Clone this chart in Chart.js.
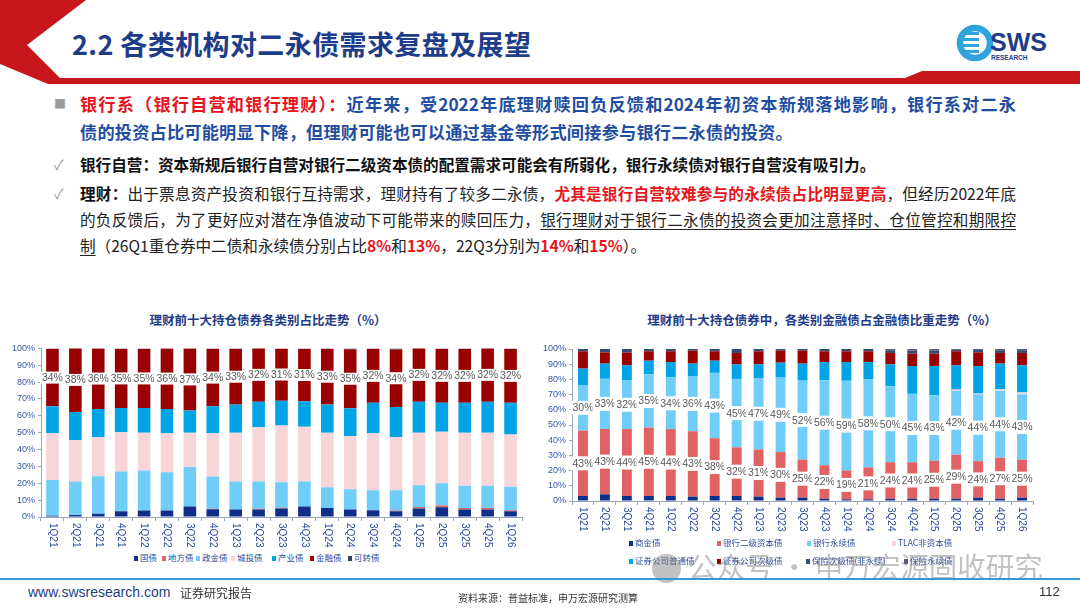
<!DOCTYPE html>
<html>
<head>
<meta charset="utf-8">
<script src="https://cdn.jsdelivr.net/npm/chart.js@4.4.1/dist/chart.umd.min.js"></script>
<style>
  html, body { margin: 0; padding: 0; background: #fff; }
  body { width: 1080px; height: 608px; position: relative; overflow: hidden; font-family: "Noto Sans CJK SC", "Noto Sans", sans-serif; }
  .abs { position: absolute; }
  .title { left: 72px; top: 26px; font-size: 27px; font-weight: bold; color: #1F3C88; line-height: 36px; letter-spacing: 0.4px; }
  .line { position: absolute; left: 80px; line-height: 20px; white-space: nowrap; }
  .l1 { top: 94px; width: 936px; font-size: 17.2px; font-weight: bold; color: #1F4EA0; text-align: justify; text-align-last: justify; }
  .l2 { top: 122px; font-size: 17.2px; font-weight: bold; color: #1F4EA0; letter-spacing: 0.2px; }
  .l3 { top: 154px; font-size: 15.6px; font-weight: bold; color: #111; }
  .l4, .l5 { width: 936px; font-size: 15.6px; color: #222; text-align: justify; text-align-last: justify; }
  .l4 { top: 183px; }
  .l5 { top: 209px; }
  .l6 { top: 235px; font-size: 15.6px; color: #222; }
  .red { color: #E8141B; font-weight: bold; }
  .b { font-weight: bold; color: #111; }
  .u { text-decoration: underline; text-underline-offset: 3px; }
  .bullet { position: absolute; left: 54px; color: #9a9a9a; }
  .ctitle { position: absolute; top: 310px; font-size: 12.5px; font-weight: bold; color: #1F3C88; text-align: center; }
  .legend { position: absolute; font-size: 8.5px; color: #2E4D9A; white-space: nowrap; line-height: 12px; }
  .legend span.it { position: absolute; }
  .legend i { display: inline-block; width: 4px; height: 5px; margin-right: 2px; vertical-align: 0px; }
  .wm { left: 652px; top: 546px; font-size: 28.5px; color: rgba(120,120,120,0.45); white-space: nowrap; line-height: 40px; }
  .foot { position: absolute; white-space: nowrap; }
</style>
</head>
<body>

<svg class="abs" style="left:0;top:0" width="1080" height="90">
  <polygon points="0,0 86,0 27,45 60,78 1080,78 1080,84 48,84 0,64" fill="#C8161D"/>
  <polygon points="905,78 922,71 1080,71 1080,78" fill="#C8161D"/>
  <circle cx="975" cy="43" r="15" fill="none" stroke="#2EA3DD" stroke-width="6.5"/>
  <rect x="962" y="32" width="17" height="3" fill="#2EA3DD"/>
  <rect x="962" y="38" width="17" height="3" fill="#2EA3DD"/>
  <rect x="962" y="44" width="17" height="3" fill="#2EA3DD"/>
  <rect x="962" y="50" width="17" height="3" fill="#2EA3DD"/>
  <text x="990" y="51" font-family="Liberation Sans, Arial" font-weight="bold" font-size="25" fill="#1F3C88">SWS</text>
  <text x="991" y="60" font-family="Liberation Sans, Arial" font-weight="bold" font-size="6.5" fill="#1F3C88">RESEARCH</text>
</svg>
<div class="abs title">2.2 各类机构对二永债需求复盘及展望</div>

<div class="bullet" style="top:94px;font-size:12px;line-height:20px;">■</div>
<div class="line l1"><span class="red">银行系（银行自营和银行理财）：</span>近年来，受2022年底理财赎回负反馈和2024年初资本新规落地影响，银行系对二永</div>
<div class="line l2">债的投资占比可能明显下降，但理财可能也可以通过基金等形式间接参与银行二永债的投资。</div>
<div class="bullet" style="top:154px;font-size:14px;line-height:20px;">✓</div>
<div class="line l3">银行自营：资本新规后银行自营对银行二级资本债的配置需求可能会有所弱化，银行永续债对银行自营没有吸引力。</div>
<div class="bullet" style="top:183px;font-size:14px;line-height:20px;">✓</div>
<div class="line l4"><span class="b">理财：</span>出于票息资产投资和银行互持需求，理财持有了较多二永债，<span class="red">尤其是银行自营较难参与的永续债占比明显更高</span>，但经历2022年底</div>
<div class="line l5">的负反馈后，为了更好应对潜在净值波动下可能带来的赎回压力，<span class="u">银行理财对于银行二永债的投资会更加注意择时、仓位管控和期限控</span></div>
<div class="line l6"><span class="u">制</span>（26Q1重仓券中二债和永续债分别占比<span class="red">8%</span>和<span class="red">13%</span>，22Q3分别为<span class="red">14%</span>和<span class="red">15%</span>）。</div>

<div class="ctitle" style="left:130px;width:276px;">理财前十大持仓债券各类别占比走势（%）</div>
<div class="ctitle" style="left:630px;width:384px;">理财前十大持仓债券中，各类别金融债占金融债比重走势（%）</div>

<div class="abs" style="left:0;top:340px;width:530px;height:210px;"><canvas id="leftChart"></canvas></div>
<div class="abs" style="left:530px;top:340px;width:550px;height:210px;"><canvas id="rightChart"></canvas></div>

<div id="leftLegend" class="legend" style="left:134px;top:551px;width:280px;height:12px;"></div>
<div id="rightLegend" class="legend" style="left:629px;top:536px;width:360px;height:30px;"></div>

<div class="abs wm"><span style="display:inline-block;width:29px;height:29px;border-radius:15px;background:rgba(120,120,120,0.45);vertical-align:-5px;margin-right:7px;"></span>公众号 · 申万宏源固收研究</div>

<div class="abs" style="left:0;top:578px;width:1080px;height:2px;background:#2E9BD6;"></div>
<div class="foot" style="left:28px;top:584px;font-size:14px;color:#1F3C88;font-family:'Liberation Sans',Arial;">www.swsresearch.com</div>
<div class="foot" style="left:180px;top:584px;font-size:12px;color:#333;">证券研究报告</div>
<div class="foot" style="left:458px;top:590px;font-size:10px;color:#333;">资料来源：普益标准，申万宏源研究测算</div>
<div class="foot" style="left:1039px;top:584px;font-size:13px;color:#333;font-family:'Liberation Sans',Arial;">112</div>

<script>
// ===== 数据 =====
const quarters = ['1Q21','2Q21','3Q21','4Q21','1Q22','2Q22','3Q22','4Q22','1Q23','2Q23','3Q23',
  '4Q23','1Q24','2Q24','3Q24','4Q24','1Q25','2Q25','3Q25','4Q25','1Q26'];
const yTicks = [0, 10, 20, 30, 40, 50, 60, 70, 80, 90, 100];

// 左图：各类别占比
const leftNames = ['国债','地方债','政金债','城投债','产业债','金融债','可转债'];
const guozhai  = [0.8,1.2,2.0,3.4,3.8,3.8,6.3,4.6,4.4,4.4,5.0,6.3,5.4,4.4,4.0,3.4,5.0,5.8,4.4,4.4,3.4];
const difang   = [0,0,0,0,0,0,0,0.3,0,0.5,0.5,0,0,0,0,0.4,1.0,1.0,1.0,1.0,0.6];
const zhengjin = [21.2,19.8,22.2,23.6,23.8,22.8,23.3,19.1,16.6,16.1,15.1,14.7,12.3,12.1,11.9,12.1,12.8,13.2,13.1,13.1,13.9];
const chengtou = [27.6,24.6,23.2,23.2,22.4,23.0,20.4,25.6,29.0,32.2,33.6,32.6,32.3,31.5,33.7,31.5,31.2,30.6,31.5,31.5,31.1];
const chanye   = [16.1,16.7,16.7,14.5,14.7,14.5,13.1,16.1,16.7,15.1,14.8,15.1,16.7,16.5,18.1,17.9,18.3,17.1,17.7,18.3,18.7];
const jinrong  = [34,38,36,35,35,36,37,34,33,32,31,31,33,35,32,34,32,32,32,32,32];
const kezhuan  = [0.3,0,0,0.3,0.3,0,0,0.3,0.3,0,0,0.3,0.3,0.5,0.3,0.7,0,0.3,0.3,0,0.3];

// 右图：各类别金融债占比
const rightNames = ['商金债','银行二级资本债','银行永续债','TLAC非资本债','证券公司普通债','证券公司次级债','保险次级债(非永续)','保险永续债'];
const shangjin = [3.3,4.4,3.3,3.3,3.3,2.9,3.3,3.3,2.9,2.2,2.2,1.5,1.1,1.1,1.5,1.5,1.5,1.5,2.2,1.5,2.2];
const erji     = [43,43,44,45,44,43,38,32,31,30,25,22,19,21,24,24,25,29,24,27,25];
const yongxu   = [30,33,32,35,34,36,43,45,47,49,52,56,59,58,50,45,43,42,44,44,43];
const tlac     = [0,0,0,0,0,0,0,0,0,0,0,0,0,0,0,0,0,0.8,0.5,1.0,1.2];
const zqpt     = [10.8,10.0,10.0,9.0,10.1,8.5,8.0,9.6,9.0,9.8,11.2,11.9,12.3,11.3,14.4,18.3,19.3,16.0,18.1,16.9,17.9];
const zqcj     = [11.4,7.4,8.3,6.2,7.1,8.5,6.2,7.5,8.6,7.9,8.5,7.1,7.1,7.1,7.5,8.1,8.1,9.2,9.0,7.0,8.1];
const bxcj     = [1.5,2.2,2.4,1.5,1.5,1.1,1.5,2.6,1.5,1.1,1.1,1.5,1.5,1.5,1.8,2.1,2.1,1.0,1.5,1.8,1.8];
const bxyx     = [0,0,0,0,0,0,0,0,0,0,0,0,0,0,0.8,1.0,1.0,0.5,0.7,0.8,0.8];

const leftColors  = ['#0F2E8A','#E06262','#6FCDF7','#F8D5D8','#00A3E3','#990000','#34415E'];
const rightColors = ['#0F2E8A','#E06262','#6FCDF7','#F8D5D8','#00A3E3','#990000','#354A6E','#5D5880'];

const AXIS = '#9AA6BE';
const TICK_TXT = '#3458A6';
Chart.defaults.font.family = "'Liberation Sans', Arial, sans-serif";
Chart.defaults.animation = false;

// ===== 插件：竖排横轴标签（顺时针 90°）=====
const verticalTicks = {
  id: 'verticalTicks',
  afterDraw(chart) {
    const { ctx, chartArea } = chart;
    const xs = chart.scales.x;
    ctx.save();
    ctx.fillStyle = '#2E4D9A';
    ctx.font = "10px 'Liberation Sans', Arial";
    ctx.textAlign = 'left';
    ctx.textBaseline = 'middle';
    chart.data.labels.forEach((lbl, i) => {
      const x = xs.getPixelForTick(i);
      ctx.save();
      ctx.translate(x, chartArea.bottom + 6);
      ctx.rotate(Math.PI / 2);
      ctx.fillText(lbl, 0, 0);
      ctx.restore();
    });
    ctx.restore();
  },
};

// ===== 插件：带白底的数据标签 =====
const boxLabels = {
  id: 'boxLabels',
  afterDatasetsDraw(chart, args, opts) {
    const { ctx } = chart;
    ctx.save();
    ctx.font = "10.5px 'Liberation Sans', Arial";
    ctx.textAlign = 'center';
    ctx.textBaseline = 'middle';
    opts.sets.forEach((di) => {
      const meta = chart.getDatasetMeta(di);
      const data = chart.data.datasets[di].data;
      meta.data.forEach((el, i) => {
        const cy = (el.y + el.base) / 2;
        const txt = `${Math.round(data[i])}%`;
        const w = ctx.measureText(txt).width;
        ctx.fillStyle = '#fff';
        ctx.fillRect(el.x - w / 2 - 2, cy - opts.boxH / 2, w + 4, opts.boxH);
        ctx.fillStyle = '#595959';
        ctx.fillText(txt, el.x, cy + 0.5);
      });
    });
    ctx.restore();
  },
};

function makeChart(id, names, series, colors, cfg) {
  const ctx = document.getElementById(id).getContext('2d');
  return new Chart(ctx, {
    type: 'bar',
    data: {
      labels: quarters,
      datasets: names.map((n, i) => ({
        label: n, data: series[i], backgroundColor: colors[i], borderWidth: 0,
        barPercentage: cfg.barPct, categoryPercentage: 1,
      })),
    },
    plugins: [verticalTicks, boxLabels],
    options: {
      responsive: true, maintainAspectRatio: false,
      layout: { padding: { top: cfg.padTop, right: cfg.padRight, left: 0, bottom: 0 } },
      plugins: {
        legend: { display: false },
        tooltip: { enabled: false },
        boxLabels: { sets: cfg.labelSets, boxH: cfg.boxH },
      },
      scales: {
        x: {
          stacked: true,
          border: { color: AXIS, width: 1 },
          grid: { display: true, drawOnChartArea: false, drawTicks: true, tickLength: 4, color: AXIS, offset: true },
          ticks: { display: false },
          afterFit: (s) => { s.height = cfg.xHeight; },
        },
        y: {
          stacked: true, min: 0, max: 100,
          border: { color: AXIS, width: 1 },
          grid: { drawOnChartArea: false, drawTicks: true, tickLength: 3, color: AXIS },
          afterBuildTicks: (s) => { s.ticks = yTicks.map((v) => ({ value: v })); },
          ticks: { color: TICK_TXT, font: { size: 9 }, padding: 3, callback: (v) => `${v}%` },
          afterFit: (s) => { s.width = cfg.yWidth; },
        },
      },
    },
  });
}

makeChart('leftChart', leftNames,
  [guozhai, difang, zhengjin, chengtou, chanye, jinrong, kezhuan], leftColors,
  { barPct: 0.55, padTop: 8, padRight: 8, xHeight: 33, yWidth: 41, labelSets: [5], boxH: 12 });

makeChart('rightChart', rightNames,
  [shangjin, erji, yongxu, tlac, zqpt, zqcj, bxcj, bxyx], rightColors,
  { barPct: 0.45, padTop: 9, padRight: 47, xHeight: 49, yWidth: 42, labelSets: [1, 2], boxH: 14 });

// ===== 图例 =====
function buildLegend(elId, names, colors, pos) {
  document.getElementById(elId).innerHTML = names.map((n, i) => `
    <span class="it" style="left:${pos[i][0]}px;top:${pos[i][1]}px"><i style="background:${colors[i]}"></i>${n}</span>
  `).join('');
}
buildLegend('leftLegend', leftNames, leftColors,
  [[0,0],[28,0],[62,0],[97,0],[138,0],[176,0],[214,0]]);
buildLegend('rightLegend', rightNames, rightColors,
  [[0,0],[88,0],[178,0],[263,0],[0,18],[88,18],[177,18],[275,18]]);
</script>
</body>
</html>
